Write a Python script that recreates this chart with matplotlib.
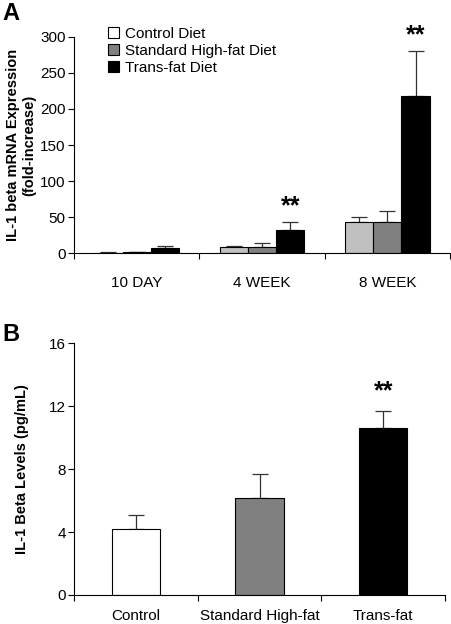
import matplotlib
matplotlib.use("Agg")
import matplotlib.pyplot as plt
import numpy as np
from matplotlib.patches import Patch

plt.rcParams['font.family'] = ['Liberation Sans', 'DejaVu Sans']

# Panel A data
timepoints = ["10 DAY", "4 WEEK", "8 WEEK"]
diet_labels = ["Control Diet", "Standard High-fat Diet", "Trans-fat Diet"]
control_a = [1.0, 9.0, 43.0]
control_a_err = [1.0, 1.6, 7.0]
standard_a = [2.5, 9.0, 43.0]
standard_a_err = [0.0, 6.0, 16.0]
trans_a = [7.0, 33.0, 218.0]
trans_a_err = [3.6, 10.0, 63.0]
sig_a = ["", "**", "**"]

# Panel B data
groups_b = ["Control", "Standard High-fat", "Trans-fat"]
values_b = [4.22, 6.19, 10.6]
errors_b = [0.84, 1.48, 1.12]
sig_b = ["", "", "**"]

fig = plt.figure(figsize=(4.52, 6.24), dpi=100)

# ---------- Panel A ----------
axA = fig.add_axes([0.1637, 0.594, 0.832, 0.347])
x = np.arange(len(timepoints))
w = 0.225
facec_a = ["#C0C0C0", "#808080", "#000000"]
series = [(control_a, control_a_err), (standard_a, standard_a_err), (trans_a, trans_a_err)]
for i, (vals, errs) in enumerate(series):
    xs = x + (i - 1) * w
    axA.bar(xs, vals, width=w, color=facec_a[i], edgecolor="#000000", linewidth=0.8, zorder=2)
    axA.errorbar(xs, vals, yerr=[np.zeros(len(vals)), errs], fmt="none", ecolor="#333333",
                 elinewidth=0.9, capsize=5.5, capthick=0.9, zorder=1)
for j, s in enumerate(sig_a):
    if s:
        top = trans_a[j] + trans_a_err[j]
        axA.text(x[j] + w, top + 5, s, ha="center", va="bottom", fontsize=18, fontweight="bold")

axA.set_xlim(-0.5, 2.5)
axA.set_ylim(0, 300)
axA.set_yticks([0, 50, 100, 150, 200, 250, 300])
axA.set_xticks([-0.5, 0.5, 1.5, 2.5])
axA.set_xticklabels([])
axA.set_xticks(x, minor=True)
axA.set_xticklabels(timepoints, minor=True)
axA.tick_params(axis="x", which="minor", length=0, pad=16, labelsize=11)
axA.tick_params(axis="x", which="major", length=4, direction="out")
axA.tick_params(axis="y", length=4, direction="out", labelsize=11, pad=2)
axA.spines["top"].set_visible(False)
axA.spines["right"].set_visible(False)
axA.set_ylabel("IL-1 beta mRNA Expression\n(fold-increase)", fontsize=10.5, fontweight="bold", labelpad=3)

leg_handles = [Patch(facecolor="#FFFFFF", edgecolor="#000000", linewidth=0.8),
               Patch(facecolor="#808080", edgecolor="#000000", linewidth=0.8),
               Patch(facecolor="#000000", edgecolor="#000000", linewidth=0.8)]
axA.legend(leg_handles, diet_labels, loc="upper left", bbox_to_anchor=(0.075, 1.075), frameon=False,
           fontsize=11, handlelength=0.7, handleheight=0.7, handletextpad=0.4, labelspacing=0.2,
           borderaxespad=0)

fig.text(0.005, 0.997, "A", fontsize=17, fontweight="bold", ha="left", va="top")

# ---------- Panel B ----------
axB = fig.add_axes([0.1637, 0.0465, 0.821, 0.4033])
xb = np.arange(len(groups_b))
facec_b = ["#FFFFFF", "#808080", "#000000"]
axB.bar(xb, values_b, width=0.39, color=facec_b, edgecolor="#000000", linewidth=0.8, zorder=2)
axB.errorbar(xb, values_b, yerr=[np.zeros(len(values_b)), errors_b], fmt="none", ecolor="#333333",
             elinewidth=0.9, capsize=6, capthick=0.9, zorder=1)
for j, s in enumerate(sig_b):
    if s:
        axB.text(xb[j], values_b[j] + errors_b[j] + 0.45, s, ha="center", va="bottom",
                 fontsize=18, fontweight="bold")
axB.set_xlim(-0.5, 2.5)
axB.set_ylim(0, 16)
axB.set_yticks([0, 4, 8, 12, 16])
axB.set_xticks([-0.5, 0.5, 1.5, 2.5])
axB.set_xticklabels([])
axB.set_xticks(xb, minor=True)
axB.set_xticklabels(groups_b, minor=True)
axB.tick_params(axis="x", which="minor", length=0, pad=10, labelsize=11)
axB.tick_params(axis="x", which="major", length=4, direction="out")
axB.tick_params(axis="y", length=4, direction="out", labelsize=11, pad=2)
axB.spines["top"].set_visible(False)
axB.spines["right"].set_visible(False)
axB.set_ylabel("IL-1 Beta Levels (pg/mL)", fontsize=10.5, fontweight="bold", labelpad=14)

fig.text(0.005, 0.482, "B", fontsize=17, fontweight="bold", ha="left", va="top")

fig.savefig("out.png", dpi=100, facecolor="white")
